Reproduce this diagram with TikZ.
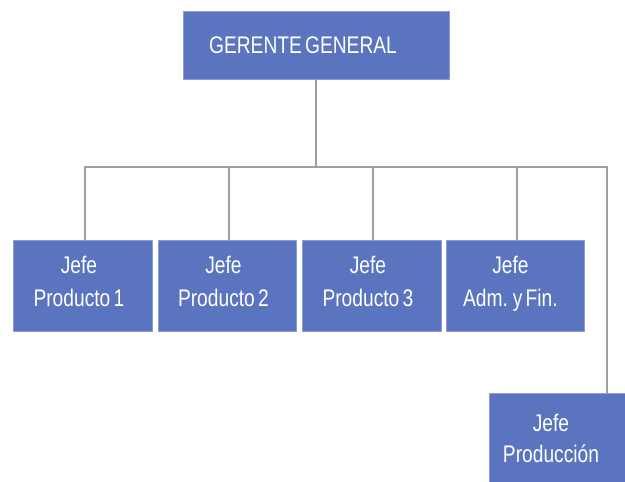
\documentclass[tikz,border=0pt]{standalone}
\usepackage{fontspec}
\setmainfont[FakeStretch=0.8,WordSpace=0.6]{Liberation Sans}
\definecolor{boxfill}{RGB}{91,116,192}
\definecolor{boxedge}{RGB}{140,158,212}
\definecolor{wire}{RGB}{160,160,155}
\begin{document}
\begin{tikzpicture}[x=1pt,y=-1pt,
  unit/.style={rectangle,fill=boxfill,draw=boxedge,line width=0.8pt,
    inner sep=0pt,anchor=north west},
  lbl/.style={text=white,align=center,inner sep=0pt,
    font=\fontsize{24}{32.5}\selectfont},
  link/.style={draw=wire,line width=2pt}]
\useasboundingbox (0,0) rectangle (625,482);

% boxes
\node[unit,minimum width=266pt,minimum height=68pt] (gg) at (183,11) {};
\node[unit,minimum width=139pt,minimum height=91pt] (p1) at (13,240) {};
\node[unit,minimum width=138pt,minimum height=91pt] (p2) at (158,240) {};
\node[unit,minimum width=139pt,minimum height=91pt] (p3) at (302,240) {};
\node[unit,minimum width=138pt,minimum height=91pt] (af) at (446,240) {};
\node[unit,minimum width=140pt,minimum height=92pt] (pr) at (489,393) {};

% labels (lifted slightly above the box centres)
\node[lbl] (ggt) at (303,45) {GERENTE GENERAL};
\node[lbl] (p1t) at ([xshift=-4pt,yshift=4.5pt]p1.center) {Jefe\\Producto 1};
\node[lbl] (p2t) at ([xshift=-4pt,yshift=4.5pt]p2.center) {Jefe\\Producto 2};
\node[lbl] (p3t) at ([xshift=-4pt,yshift=4.5pt]p3.center) {Jefe\\Producto 3};
\node[lbl] (aft) at ([xshift=-5pt,yshift=2pt]af.center) {Jefe\\Adm. y Fin.};
\node[lbl,font=\fontsize{24}{30.5}\selectfont] (prt) at (551,438.5) {Jefe\\Producción};

% drop points on the top edges of the lower boxes
\coordinate (d1) at ([xshift=2pt]p1.north);
\coordinate (d2) at ([xshift=2pt]p2.north);
\coordinate (d3) at ([xshift=1.5pt]p3.north);
\coordinate (d4) at ([xshift=2pt]af.north);

% connectors
\coordinate (busL) at (d1 |- 0,167);
\coordinate (busR) at (607,167);
\coordinate (busM) at (gg.south |- busL);
\draw[link] (gg.south) -- (busM);
\draw[link] (d1) -- (busL) -- (busR) -- (busR |- pr.north);
\draw[link] (d2 |- busL) -- (d2);
\draw[link] (d3 |- busL) -- (d3);
\draw[link] (d4 |- busL) -- (d4);
\end{tikzpicture}
\end{document}
